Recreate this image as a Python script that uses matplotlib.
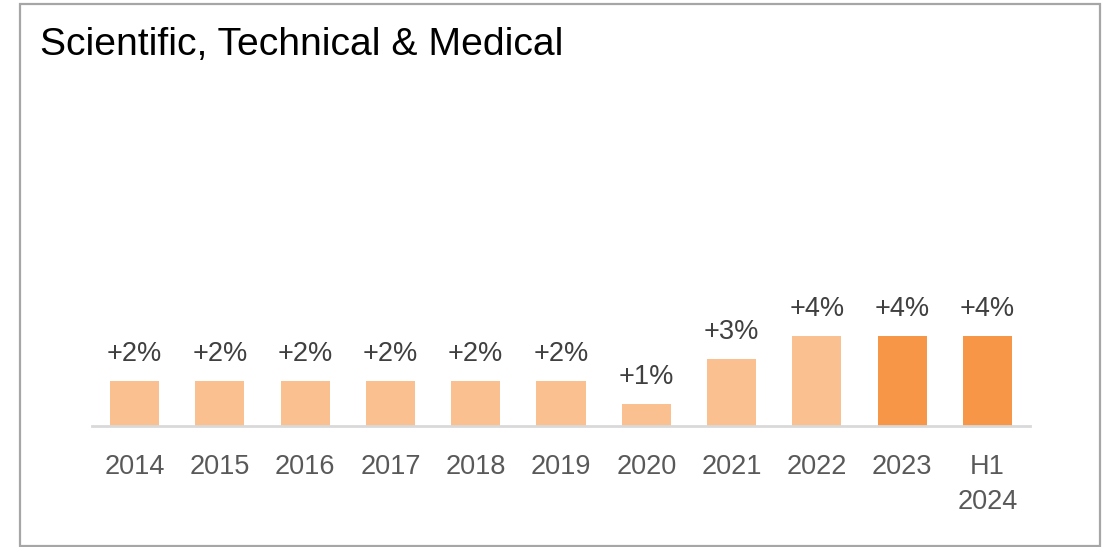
import matplotlib
matplotlib.use("Agg")
import matplotlib.pyplot as plt
from matplotlib.patches import Rectangle

categories = ["2014", "2015", "2016", "2017", "2018", "2019", "2020", "2021", "2022", "2023", "H1\n2024"]
growth = [2, 2, 2, 2, 2, 2, 1, 3, 4, 4, 4]
labels = ["+2%", "+2%", "+2%", "+2%", "+2%", "+2%", "+1%", "+3%", "+4%", "+4%", "+4%"]
highlight = [False] * 9 + [True, True]

plt.rcParams['font.family'] = ['Liberation Sans Narrow', 'Liberation Sans', 'DejaVu Sans']

W, H = 1107, 547
fig = plt.figure(figsize=(W / 100, H / 100), dpi=100)

# outer gray frame
fig.patches.append(Rectangle((20 / W, 1 - 546 / H), 1080 / W, 542 / H,
                             transform=fig.transFigure, fill=False,
                             edgecolor="#a6a6a6", linewidth=1.6))

fig.text(40 / W, 1 - 45 / H, "Scientific, Technical & Medical",
         fontsize=28.2, color="black", va="center", ha="left")

# axes: baseline at y=426 px, 22.5 px per %
base_px = 426
top_px = 100
ax = fig.add_axes([92 / W, 1 - base_px / H, 938 / W, (base_px - top_px) / H])
ymax = (base_px - top_px) / 22.5
ax.set_xlim(-0.5, len(categories) - 0.5)
ax.set_ylim(0, ymax)

colors = ["#f79646" if h else "#fac08f" for h in highlight]
x = range(len(categories))
bars = ax.bar(x, growth, width=0.575, color=colors)

for xi, v, lab in zip(x, growth, labels):
    ax.text(xi, v + 0.62, lab, ha="center", va="bottom", fontsize=19.5, color="#404040")

for s in ["top", "right", "left"]:
    ax.spines[s].set_visible(False)
ax.spines["bottom"].set_color("#d9d9d9")
ax.spines["bottom"].set_linewidth(2)
ax.set_yticks([])
ax.set_xticks(list(x))
ax.set_xticklabels(categories, fontsize=19.5, color="#595959", linespacing=1.45, va="top")
ax.tick_params(axis="x", length=0, pad=20)

fig.savefig("out.png", dpi=100)
